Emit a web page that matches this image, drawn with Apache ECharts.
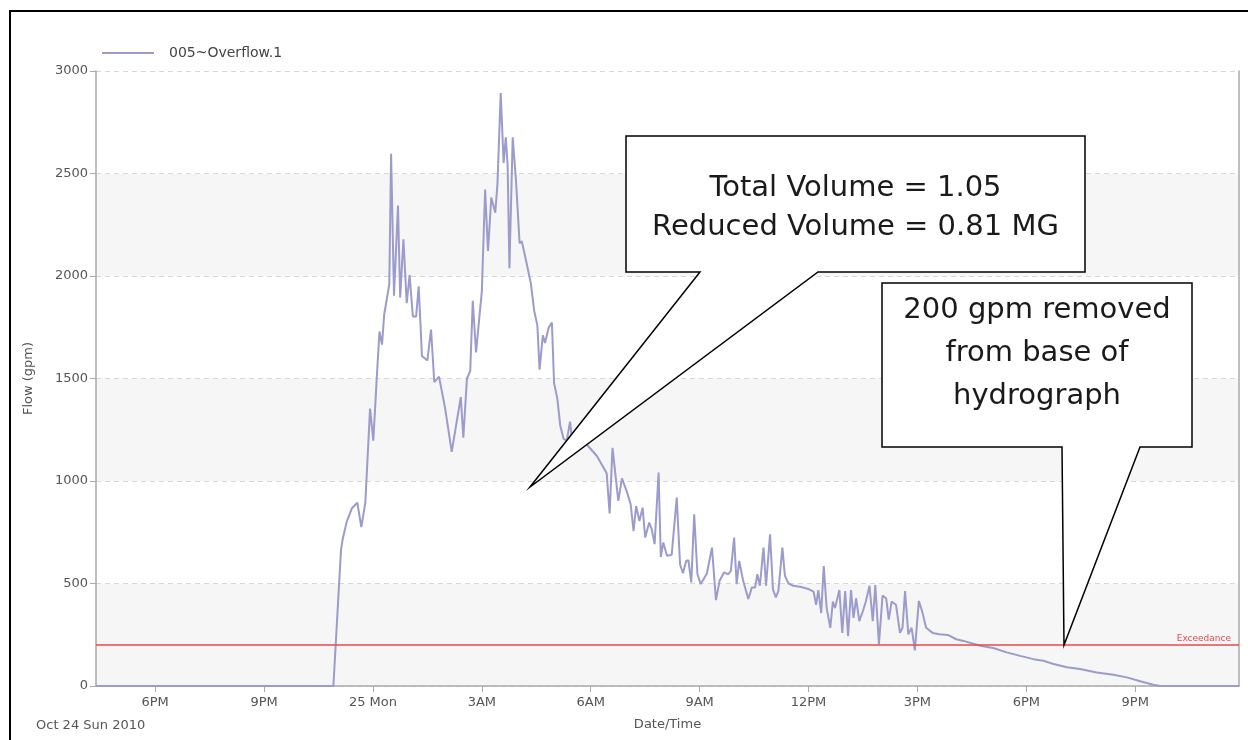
<!DOCTYPE html>
<html>
<head>
<meta charset="utf-8">
<script src="https://cdn.jsdelivr.net/npm/echarts@6/dist/echarts.min.js"></script>
<style>
html,body{margin:0;padding:0;background:#fff;}
#chart{width:1248px;height:740px;}
</style>
</head>
<body>
<div id="chart"></div>
<script>
// hours since Oct 24 2010 00:00
const times = [16.37,22.91,23.12,23.17,23.28,23.42,23.57,23.68,23.79,23.92,24.01,24.11,24.18,24.25,24.31,24.38,24.45,24.50,24.58,24.69,24.75,24.84,24.93,25.01,25.10,25.19,25.26,25.35,25.50,25.60,25.69,25.82,25.99,26.17,26.42,26.49,26.59,26.68,26.75,26.84,27.00,27.09,27.17,27.26,27.37,27.43,27.52,27.60,27.66,27.71,27.76,27.85,27.94,28.04,28.10,28.24,28.35,28.44,28.53,28.59,28.68,28.74,28.84,28.93,28.99,29.08,29.16,29.25,29.34,29.43,29.48,29.62,29.89,30.17,30.35,30.44,30.52,30.60,30.76,30.86,30.99,31.10,31.18,31.25,31.34,31.43,31.50,31.61,31.68,31.76,31.87,31.93,32.00,32.10,32.23,32.37,32.46,32.54,32.63,32.69,32.77,32.85,32.94,33.03,33.20,33.34,33.45,33.55,33.67,33.79,33.86,33.95,34.02,34.09,34.20,34.34,34.44,34.53,34.59,34.66,34.76,34.83,34.94,35.02,35.10,35.17,35.28,35.35,35.45,35.58,35.77,36.00,36.14,36.21,36.27,36.35,36.42,36.50,36.60,36.67,36.73,36.85,36.93,37.01,37.09,37.17,37.24,37.31,37.40,37.51,37.58,37.68,37.77,37.84,37.94,38.04,38.14,38.21,38.29,38.41,38.52,38.59,38.66,38.75,38.84,38.88,38.93,39.04,39.13,39.24,39.42,39.60,39.84,40.07,40.27,40.73,41.09,41.46,41.83,42.20,42.47,42.75,43.12,43.48,43.94,44.40,44.77,45.14,45.50,45.69,47.86];
const flow = [0,0,665,720,803,867,894,775,894,1353,1197,1518,1729,1665,1812,1886,1959,2596,1904,2344,1895,2179,1867,2005,1803,1803,1950,1610,1588,1739,1482,1509,1353,1142,1409,1211,1500,1536,1879,1627,1926,2422,2122,2383,2309,2449,2892,2552,2677,2540,2038,2677,2468,2160,2170,2057,1964,1833,1758,1543,1711,1673,1748,1773,1478,1402,1271,1206,1197,1290,1206,1187,1178,1122,1066,1038,842,1162,903,1013,951,886,756,878,805,870,724,797,765,692,1041,630,700,635,640,919,594,550,610,614,505,838,545,497,549,675,419,513,554,545,562,724,497,610,513,424,481,481,545,489,675,489,740,472,432,464,675,537,500,489,484,473,460,396,468,356,585,380,284,412,380,468,259,463,243,468,332,428,316,372,412,489,316,492,204,441,428,324,412,396,259,284,463,252,284,236,174,415,364,284,259,252,249,228,220,196,185,164,147,131,123,107,91,83,66,55,42,23,6,0,0];
const tickHours = [18,21,24,27,30,33,36,39,42,45];
const tickLabels = ['6PM','9PM','25 Mon','3AM','6AM','9AM','12PM','3PM','6PM','9PM'];
const seriesName = '005~Overflow.1';
const exceedance = 200;
const callout1 = ['Total Volume = 1.05','Reduced Volume = 0.81 MG'];
const callout2 = ['200 gpm removed','from base of','hydrograph'];

const chart = echarts.init(document.getElementById('chart'), null, {renderer:'canvas'});
const FONT = 'DejaVu Sans';
const data = times.map((t,i)=>[t, flow[i]]);

const option = {
  animation:false,
  backgroundColor:'#fff',
  textStyle:{fontFamily:FONT},
  legend:{
    left:97, top:41,
    itemWidth:52, itemHeight:2, icon:'rect', itemGap:10,
    textStyle:{fontSize:14,color:'#444',fontFamily:FONT,padding:[0,0,0,10]},
    data:[seriesName]
  },
  grid:{left:96,right:9,top:71,bottom:54},
  xAxis:{
    type:'value', min:16.37, max:47.86,
    name:'Date/Time', nameLocation:'middle', nameGap:32,
    nameTextStyle:{fontSize:13,color:'#555',fontFamily:FONT},
    axisLine:{show:true,lineStyle:{color:'#aaa',width:1.5}},
    axisTick:{show:true,length:6,lineStyle:{color:'#aaa'},customValues:tickHours},
    axisLabel:{fontSize:13,color:'#555',margin:10,customValues:tickHours,
      formatter:function(v){const i=tickHours.indexOf(Math.round(v));return i>=0?tickLabels[i]:'';}},
    splitLine:{show:false}
  },
  yAxis:[{
    type:'value', min:0, max:3000, interval:500,
    name:'Flow (gpm)', nameLocation:'middle', nameGap:61,
    nameTextStyle:{fontSize:13,color:'#555',fontFamily:FONT},
    axisLine:{show:true,lineStyle:{color:'#aaa',width:1.5}},
    axisTick:{show:true,length:6,lineStyle:{color:'#aaa'}},
    axisLabel:{fontSize:13,color:'#555',margin:8,formatter:function(v){return String(v);}},
    splitLine:{show:true,lineStyle:{color:'#d8d8d8',type:[5,4]}},
    splitArea:{show:true,areaStyle:{color:['#f6f6f6','#ffffff']}}
  },{
    type:'value', min:0, max:3000, position:'right',
    axisLine:{show:true,lineStyle:{color:'#aaa',width:1.5}},
    axisTick:{show:false}, axisLabel:{show:false}, splitLine:{show:false}
  }],
  series:[{
    name:seriesName, type:'line', data:data, showSymbol:false, symbol:'none',
    yAxisIndex:0,
    lineStyle:{color:'#9b9bcc',width:2}, itemStyle:{color:'#9b9bcc'},
    markLine:{
      silent:true, symbol:'none',
      lineStyle:{color:'#e8494b',width:1.5,type:'solid'},
      label:{show:true,position:'insideEndTop',formatter:'Exceedance',color:'#e8494b',fontSize:9,fontFamily:FONT,distance:[8,2]},
      data:[{yAxis:exceedance}]
    }
  }],
  graphic:[
    {type:'polyline', z:100, shape:{points:[[10,745],[10,11],[1260,11]]}, style:{stroke:'#000',lineWidth:2,fill:null}},
    {type:'polygon', z:100, shape:{points:[[626,136],[1085,136],[1085,272],[818,272],[530,487],[700,272],[626,272]]},
      style:{fill:'#fff',stroke:'#000',lineWidth:1.5}},
    {type:'text', z:101, x:855.5, y:188, style:{text:callout1[0],font:'29px "DejaVu Sans"',fill:'#1a1a1a',align:'center',verticalAlign:'middle'}},
    {type:'text', z:101, x:855.5, y:227, style:{text:callout1[1],font:'29px "DejaVu Sans"',fill:'#1a1a1a',align:'center',verticalAlign:'middle'}},
    {type:'polygon', z:100, shape:{points:[[882,283],[1192,283],[1192,447],[1140,447],[1064,645],[1062,447],[882,447]]},
      style:{fill:'#fff',stroke:'#000',lineWidth:1.5}},
    {type:'text', z:101, x:1037, y:310, style:{text:callout2[0],font:'29px "DejaVu Sans"',fill:'#1a1a1a',align:'center',verticalAlign:'middle'}},
    {type:'text', z:101, x:1037, y:353, style:{text:callout2[1],font:'29px "DejaVu Sans"',fill:'#1a1a1a',align:'center',verticalAlign:'middle'}},
    {type:'text', z:101, x:1037, y:396, style:{text:callout2[2],font:'29px "DejaVu Sans"',fill:'#1a1a1a',align:'center',verticalAlign:'middle'}},
    {type:'text', z:101, x:36, y:726, style:{text:'Oct 24 Sun 2010',font:'13px "DejaVu Sans"',fill:'#555',align:'left',verticalAlign:'middle'}}
  ]
};
chart.setOption(option);
</script>
</body>
</html>
